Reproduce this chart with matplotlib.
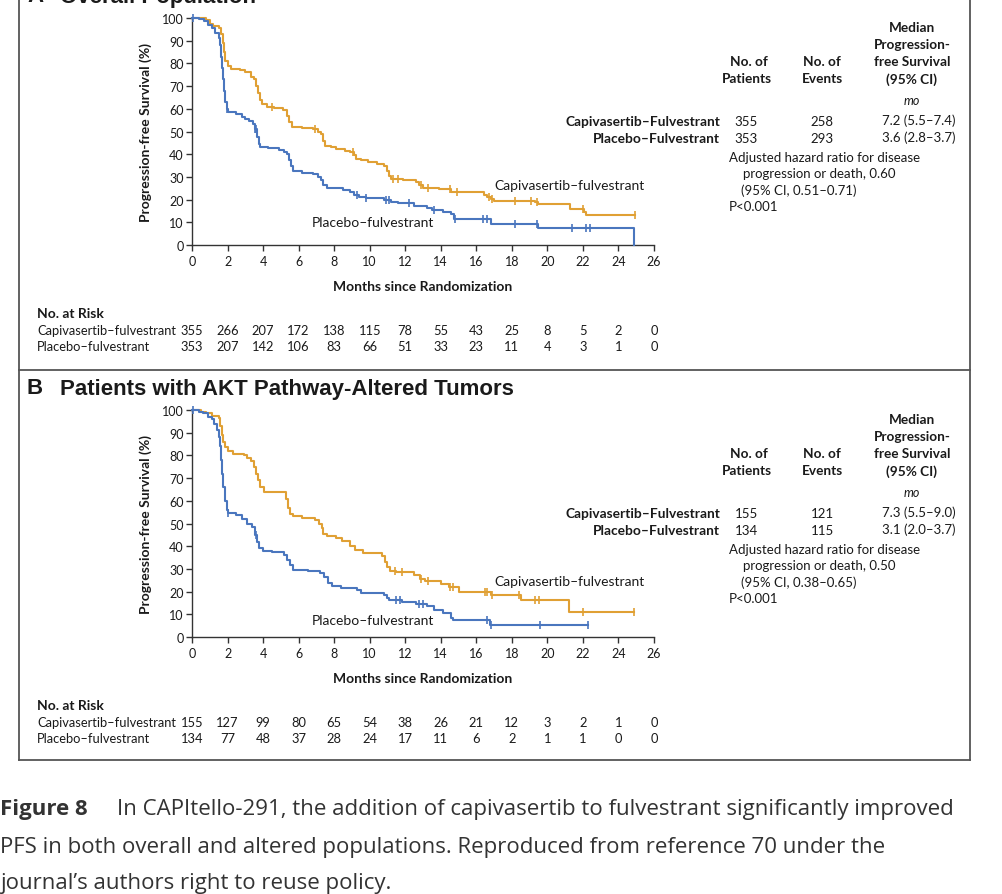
import numpy as np
import matplotlib.pyplot as plt
from matplotlib.lines import Line2D

plt.rcParams['font.family'] = ['Lato', 'DejaVu Sans']

W, H = 1003, 895
ORANGE = '#E0A034'
BLUE = '#4A76BE'
INK = '#1a1a1a'

months = list(range(0, 27, 2))

# ---- panel A: overall population (step points: time, survival %) ----
capi_a_t = [0, 0.8, 1.0, 1.2, 1.5, 1.65, 1.72, 1.8, 1.88, 2.0, 2.2, 2.7, 3.0, 3.3, 3.5, 3.6, 3.7, 3.8,
            3.95, 4.2, 4.6, 5.1, 5.35, 5.45, 5.6, 6.2, 6.8, 7.1, 7.25, 7.35, 7.5, 7.8, 8.1, 8.6, 8.9,
            9.1, 9.25, 9.5, 9.9, 10.4, 10.8, 10.95, 11.1, 11.2, 11.9, 12.6, 12.8, 13.0, 13.9, 14.6,
            16.45, 16.6, 16.8, 17.0, 19.3, 19.45, 21.3, 22.05, 22.15, 24.95]
capi_a_s = [100, 99, 97.5, 96.5, 95.5, 93, 89, 85, 81, 79, 77.7, 77, 76, 74, 73, 70, 67, 64,
            62, 61, 60.5, 59.5, 57, 54, 52, 51.5, 51, 50, 49, 46, 43.5, 43, 42.3, 41.5, 40.8,
            39.5, 38, 37.3, 36.5, 35.8, 34.8, 32.5, 30.5, 29.2, 28.7, 27.7, 26.4, 25.3, 24.7, 23.2,
            22, 21, 20.2, 19.6, 18.9, 18.1, 15.9, 14.5, 13.0, 13.0]
plac_a_t = [0, 0.4, 0.7, 0.9, 1.1, 1.3, 1.5, 1.6, 1.65, 1.7, 1.75, 1.8, 1.87, 1.95, 2.05, 2.5, 2.8,
            3.0, 3.2, 3.45, 3.55, 3.65, 3.75, 3.85, 4.3, 4.9, 5.2, 5.35, 5.45, 5.55, 5.7, 6.2, 6.8,
            7.1, 7.25, 7.4, 7.6, 8.5, 8.9, 9.1, 9.4, 9.8, 10.8, 11.2, 11.6, 12.5, 13.2, 13.5, 14.1,
            14.55, 14.75, 16.8, 19.45, 24.85]
plac_a_s = [100, 99.5, 98.5, 97, 95.5, 93.5, 91, 88, 83, 78, 73, 68, 63, 60, 58.5, 57.8, 56.5,
            55.5, 54.5, 53.5, 51, 47.5, 44.5, 43.3, 42.6, 42, 41, 40, 37.5, 35, 32.5, 31.8, 31.2,
            30, 28.5, 26.5, 25, 24.4, 23.5, 22.2, 21, 20.6, 19.9, 19, 18.4, 17.3, 16.3, 15.5, 14.5,
            13.5, 11.5, 9.3, 7.3, 0]
capi_a_cens = [4.5, 6.9, 9.05, 11.3, 11.6, 12.9, 13.3, 14.5, 14.9, 16.7, 16.9, 18.2, 19.1, 19.4,
               22.0, 24.95]
plac_a_cens = [0.05, 1.95, 3.55, 3.6, 9.3, 9.8, 10.9, 11.1, 12.2, 13.6, 14.8, 16.4, 16.6, 18.2,
               19.4, 21.4, 22.2, 22.4]

# ---- panel B: AKT pathway-altered tumours ----
capi_b_t = [0, 0.5, 0.8, 1.1, 1.5, 1.6, 1.68, 1.75, 1.84, 2.0, 2.3, 2.9, 3.1, 3.3, 3.5, 3.6, 3.7,
            3.85, 4.05, 5.3, 5.4, 5.5, 5.7, 6.2, 6.9, 7.15, 7.3, 7.4, 7.6, 8.1, 8.45, 8.9, 9.2, 9.6,
            10.7, 10.85, 11.0, 11.15, 11.5, 12.5, 12.85, 13.1, 14.0, 14.45, 15.0, 16.8, 18.5, 21.2,
            24.85]
capi_b_s = [100, 99.3, 98.5, 97.5, 96.6, 93, 89, 86, 83.7, 82, 80.8, 80, 79, 77.5, 75, 72, 69,
            66, 64, 61, 57, 54, 53.3, 52.3, 51.5, 50, 48, 45.5, 44.6, 43.6, 42.1, 40, 38.4, 37.2,
            35.5, 33, 31, 29.2, 28.5, 27.5, 25.6, 24.5, 23.5, 22.2, 20.0, 18.3, 16.4, 11.0, 11.0]
plac_b_t = [0, 0.4, 0.6, 0.9, 1.1, 1.25, 1.4, 1.5, 1.6, 1.65, 1.7, 1.75, 1.85, 1.95, 2.05, 2.5,
            2.8, 3.1, 3.35, 3.55, 3.65, 3.75, 4.0, 4.5, 5.2, 5.35, 5.5, 5.7, 6.5, 7.2, 7.45, 7.65,
            7.9, 8.4, 9.3, 9.5, 10.8, 11.0, 11.1, 11.8, 12.6, 13.2, 13.6, 14.1, 14.6, 14.7, 16.75,
            22.3]
plac_b_s = [100, 99, 98.5, 97, 96, 94, 91, 88, 84, 78, 72, 66, 60, 56, 54.5, 53.8, 52, 50, 48.5,
            45, 42, 39, 38, 37.5, 36, 34, 31.5, 29.6, 29.2, 28.2, 26.5, 24, 22.5, 21.5, 20.5, 19.2,
            18.4, 17, 16.4, 15.5, 14.5, 13.5, 12.0, 10.5, 8.5, 7.6, 5.3, 5.3]
capi_b_cens = [11.4, 11.8, 12.9, 13.3, 14.5, 14.7, 16.5, 16.6, 16.9, 18.4, 19.3, 19.5, 22.0, 24.85]
plac_b_cens = [0.05, 2.05, 3.6, 11.5, 11.7, 12.8, 13.0, 16.6, 16.8, 19.6, 22.3]

# ---- numbers at risk ----
risk_capi_a = [355, 266, 207, 172, 138, 115, 78, 55, 43, 25, 8, 5, 2, 0]
risk_plac_a = [353, 207, 142, 106, 83, 66, 51, 33, 23, 11, 4, 3, 1, 0]
risk_capi_b = [155, 127, 99, 80, 65, 54, 38, 26, 21, 12, 3, 2, 1, 0]
risk_plac_b = [134, 77, 48, 37, 28, 24, 17, 11, 6, 2, 1, 1, 0, 0]

# ---- summary tables ----
table_a = {'capi': ('355', '258', '7.2 (5.5\u20137.4)'), 'plac': ('353', '293', '3.6 (2.8\u20133.7)'),
           'hr': '0.60', 'ci': '0.51\u20130.71'}
table_b = {'capi': ('155', '121', '7.3 (5.5\u20139.0)'), 'plac': ('134', '115', '3.1 (2.0\u20133.7)'),
           'hr': '0.50', 'ci': '0.38\u20130.65'}

fig = plt.figure(figsize=(W / 100, H / 100), dpi=100)


def fx(x):
    return x / W


def fy(y):
    return 1 - y / H


def txt(x, y, s, **kw):
    kw.setdefault('color', INK)
    kw.setdefault('fontsize', 9.5)
    kw.setdefault('va', 'center')
    fig.text(fx(x), fy(y), s, **kw)


def surv_at(t, s, x):
    idx = np.searchsorted(t, x, side='right') - 1
    return np.asarray(s)[idx]


def panel(oy, letter, title, curves, risk, table, lab_dy):
    ax = fig.add_axes([fx(192), fy(246 + oy), 462 / W, 227 / H])
    for t, s, cens, col in curves:
        ax.step(t, s, where='post', color=col, lw=1.5, clip_on=False, zorder=3)
        ax.plot(cens, surv_at(t, s, cens), ls='none', marker='|', ms=6, mew=1.2,
                color=col, clip_on=False, zorder=4)
    ax.set_xlim(0, 26)
    ax.set_ylim(0, 100)
    ax.set_xticks(months)
    ax.set_yticks(range(0, 101, 10))
    for sp in ['top', 'right']:
        ax.spines[sp].set_visible(False)
    for sp in ['left', 'bottom']:
        ax.spines[sp].set_color('#333333')
        ax.spines[sp].set_linewidth(1.0)
    ax.tick_params(direction='out', length=4, width=1, color='#333333',
                   labelsize=9, labelcolor=INK, pad=2)
    ax.tick_params(axis='x', pad=3)

    # titles and axis labels
    txt(27, -3 + oy, letter, fontsize=16, fontweight='heavy', family='Liberation Sans')
    txt(60, -3 + oy, title, fontsize=16, fontweight='heavy', family='Liberation Sans')
    txt(146, 133 + oy, 'Progression-free Survival (%)', fontweight='bold', rotation=90,
        ha='center', fontsize=10)
    txt(423, 287 + oy, 'Months since Randomization', fontweight='bold', ha='center', fontsize=10)
    txt(570, 186 + oy + lab_dy[0], 'Capivasertib\u2013fulvestrant', ha='center', fontsize=10)
    txt(373, 223 + oy + lab_dy[1], 'Placebo\u2013fulvestrant', ha='center', fontsize=10)

    # number at risk
    txt(37, 314 + oy, 'No. at Risk', fontweight='bold', fontsize=10)
    txt(37, 331 + oy, 'Capivasertib\u2013fulvestrant', fontsize=9.3)
    txt(37, 347 + oy, 'Placebo\u2013fulvestrant', fontsize=9.3)
    for m, a, b in zip(months, risk[0], risk[1]):
        xx = 192 + m * 462 / 26
        txt(xx, 331 + oy, str(a), ha='center', fontsize=9.3)
        txt(xx, 347 + oy, str(b), ha='center', fontsize=9.3)

    # summary table
    for yy, s in zip([28, 45, 62, 80], ['Median', 'Progression-', 'free Survival', '(95% CI)']):
        txt(912, yy + oy, s, ha='center', fontweight='bold', fontsize=9.8)
    txt(749, 62 + oy, 'No. of', ha='center', fontweight='bold', fontsize=9.8)
    txt(747, 79 + oy, 'Patients', ha='center', fontweight='bold', fontsize=9.8)
    txt(822, 62 + oy, 'No. of', ha='center', fontweight='bold', fontsize=9.8)
    txt(822, 79 + oy, 'Events', ha='center', fontweight='bold', fontsize=9.8)
    txt(912, 101 + oy, 'mo', ha='center', style='italic', fontsize=9)
    for yy, key, name in [(122, 'capi', 'Capivasertib\u2013Fulvestrant'),
                          (139, 'plac', 'Placebo\u2013Fulvestrant')]:
        n, ev, med = table[key]
        txt(720, yy + oy, name, ha='right', fontweight='bold', fontsize=9.9)
        txt(746, yy + oy, n, ha='center')
        txt(822, yy + oy, ev, ha='center')
        txt(919, yy - 1 + oy, med, ha='center')
    txt(729, 158 + oy, 'Adjusted hazard ratio for disease')
    txt(743, 174 + oy, 'progression or death, ' + table['hr'])
    txt(741, 191 + oy, '(95% CI, ' + table['ci'] + ')')
    txt(729, 207 + oy, 'P<0.001')
    return ax


panel(0, 'A', 'Overall Population',
      [(capi_a_t, capi_a_s, capi_a_cens, ORANGE), (plac_a_t, plac_a_s, plac_a_cens, BLUE)],
      (risk_capi_a, risk_plac_a), table_a, (0, 0))
panel(392, 'B', 'Patients with AKT Pathway-Altered Tumors',
      [(capi_b_t, capi_b_s, capi_b_cens, ORANGE), (plac_b_t, plac_b_s, plac_b_cens, BLUE)],
      (risk_capi_b, risk_plac_b), table_b, (4, 6))

# frame round both panels
frame = dict(transform=fig.transFigure, color='#555555', lw=1.3)
fig.add_artist(Line2D([fx(19), fx(19)], [fy(-5), fy(761)], **frame))
fig.add_artist(Line2D([fx(970), fx(970)], [fy(-5), fy(761)], **frame))
fig.add_artist(Line2D([fx(19), fx(970)], [fy(761), fy(761)], **frame))
fig.add_artist(Line2D([fx(19), fx(970)], [fy(371), fy(371)], **frame))

# caption
cap = dict(fontsize=16, color='#333333', family='Open Sans')
txt(0, 810, 'Figure 8', fontweight='bold', **cap)
txt(117, 810, 'In CAPItello-291, the addition of capivasertib to fulvestrant significantly improved',
    **cap)
txt(0, 848, 'PFS in both overall and altered populations. Reproduced from reference 70 under the',
    **cap)
txt(0, 884, 'journal\u2019s authors right to reuse policy.', **cap)

fig.savefig('out.png', dpi=100)
